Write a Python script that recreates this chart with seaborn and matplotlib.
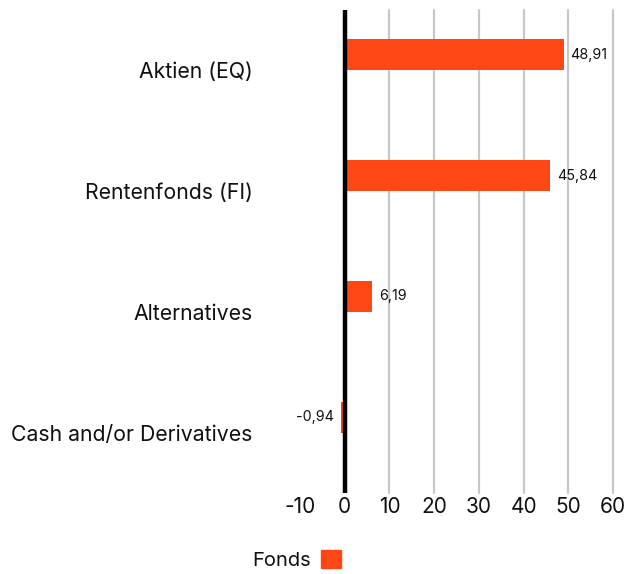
import matplotlib
matplotlib.use("Agg")
import matplotlib.pyplot as plt
import matplotlib.patches as mpatches
import seaborn as sns
import pandas as pd

# chart data
categories = ["Aktien (EQ)", "Rentenfonds (FI)", "Alternatives", "Cash and/or Derivatives"]
fonds = [48.91, 45.84, 6.19, -0.94]
value_labels = ["48,91", "45,84", "6,19", "-0,94"]
x_ticks = [-10, 0, 10, 20, 30, 40, 50, 60]
series_name = "Fonds"

ORANGE = "#ff4615"
GRID = "#c8c8c8"

sns.set_theme(style="white")
plt.rcParams["font.family"] = ["Inter", "DejaVu Sans"]
plt.rcParams["text.color"] = "#111111"
plt.rcParams["xtick.color"] = "#111111"
plt.rcParams["ytick.color"] = "#111111"

# second (empty) hue level keeps the bar in the upper half of each band
df = pd.DataFrame({
    "category": categories * 2,
    "value": fonds + [float("nan")] * len(fonds),
    "series": [series_name] * len(fonds) + ["_blank"] * len(fonds),
})

fig = plt.figure(figsize=(6.26, 5.74), dpi=100)
ax = fig.add_axes([300 / 626, 0.141, 314 / 626, 0.8416])

for t in x_ticks:
    if t > 0:
        ax.axvline(t, color=GRID, lw=1.6, zorder=0, clip_on=False)

sns.barplot(
    data=df, y="category", x="value", hue="series",
    hue_order=[series_name, "_blank"], palette=[ORANGE, ORANGE],
    orient="h", width=0.516, dodge=True, errorbar=None, legend=False,
    saturation=1, linewidth=0, ax=ax, zorder=2,
)
ax.axvline(0, color="black", lw=3.2, zorder=3)

ax.bar_label(ax.containers[0], labels=value_labels, padding=5, fontsize=10.3)

ax.set_xlim(-10, 60.2)
ax.set_xticks(x_ticks)
ax.set_xticklabels([str(t) for t in x_ticks], fontsize=15)
ax.tick_params(axis="x", length=0, pad=3)
ax.tick_params(axis="y", length=0, pad=34, labelsize=15.3)
ax.set_xlabel("")
ax.set_ylabel("")
for s in ax.spines.values():
    s.set_visible(False)

fig.legend(
    handles=[mpatches.Patch(color=ORANGE)], labels=[series_name],
    markerfirst=False, frameon=False, loc="center",
    bbox_to_anchor=(297 / 626, 1 - 560 / 574),
    handlelength=1.0, handleheight=1.0, handletextpad=0.5, fontsize=14.5,
)

fig.savefig("out.png", dpi=100)
